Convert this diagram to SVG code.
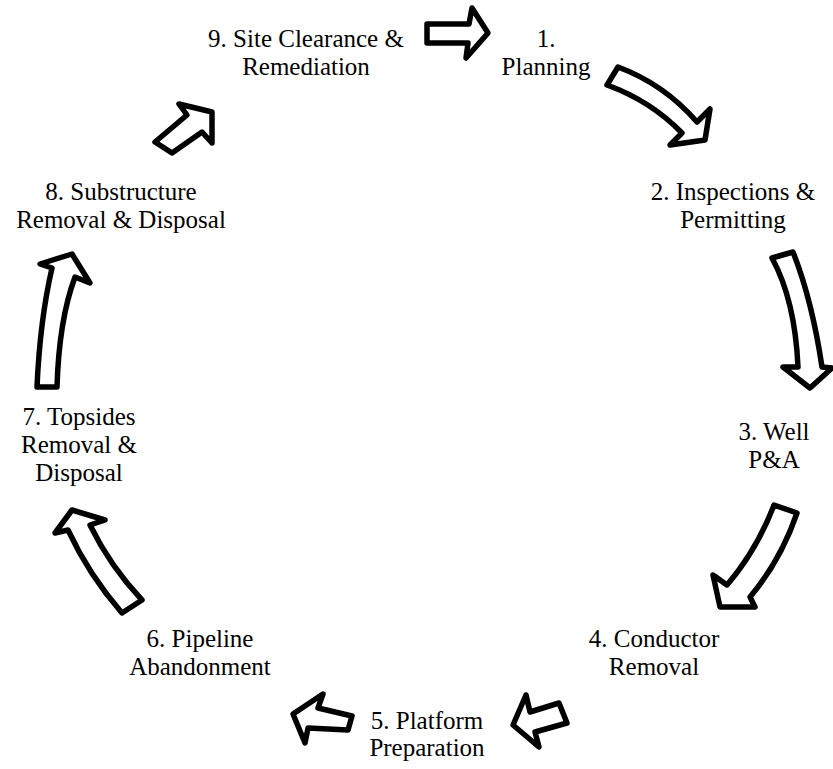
<svg xmlns="http://www.w3.org/2000/svg" width="833" height="769" viewBox="0 0 833 769">
<style>
text{font-family:'Liberation Serif','Times New Roman',serif;font-size:25px;fill:#000;text-anchor:middle}
.arr{fill:#fff;stroke:#000;stroke-width:5.5;stroke-linejoin:round}
</style>
<rect width="833" height="769" fill="#fff"/>
<g id="connectors">
<path id="a1" class="arr" d="M427,24 L469,24 L472,8 L488,33 L466,58 L468,43 L427,43 Z"/>
<path id="a2" class="arr" d="M618,67 Q664,84 697,122 L710,109 L705,140 L670,145 L682,133 Q651,101 607,85 Z"/>
<path id="a3" class="arr" d="M772,258 L793,252 Q812,300 822,367 L832,368 L810,388 L783,367 L798,367 Q795,300 772,258 Z"/>
<path id="a4" class="arr" d="M774,505 L797,513 Q781,560 750,597 L755,607 L720,607 L713,575 L727,585 Q757,550 774,505 Z"/>
<path id="a5" class="arr" d="M530,712 L526,695 L513,725 L539,747 L535,732 L567,723 L559,703 Z"/>
<path id="a6" class="arr" d="M318,708 L323,694 L293,714 L305,743 L308,728 L348,730 L352,716 Z"/>
<path id="a7" class="arr" d="M72,510 L105,520 L90,525 Q110,566 142,600 L122,613 Q89,575 68,530 L55,533 Z"/>
<path id="a8" class="arr" d="M37,387 L57,387 Q59,320 75,277 L90,283 L72,254 L40,264 L52,268 Q40,320 37,387 Z"/>
<path id="a9" class="arr" d="M187,115 L179,104 L212,112 L212,143 L202,132 L172,153 L155,142 Z"/>
</g>
<g id="n1"><text x="546" y="47.2">1.</text><text x="546" y="74.9">Planning</text></g>
<g id="n2"><text x="733" y="200.2">2. Inspections &amp;</text><text x="733" y="227.9">Permitting</text></g>
<g id="n3"><text x="774" y="440.2">3. Well</text><text x="774" y="467.9">P&amp;A</text></g>
<g id="n4"><text x="654" y="647.2">4. Conductor</text><text x="654" y="674.9">Removal</text></g>
<g id="n5"><text x="427" y="728.7">5. Platform</text><text x="427" y="756.4">Preparation</text></g>
<g id="n6"><text x="200" y="647.2">6. Pipeline</text><text x="200" y="674.9">Abandonment</text></g>
<g id="n7"><text x="79" y="425.3">7. Topsides</text><text x="79" y="453">Removal &amp;</text><text x="79" y="480.7">Disposal</text></g>
<g id="n8"><text x="121" y="200.2">8. Substructure</text><text x="121" y="227.9">Removal &amp; Disposal</text></g>
<g id="n9"><text x="306" y="47.2">9. Site Clearance &amp;</text><text x="306" y="74.9">Remediation</text></g>
</svg>
